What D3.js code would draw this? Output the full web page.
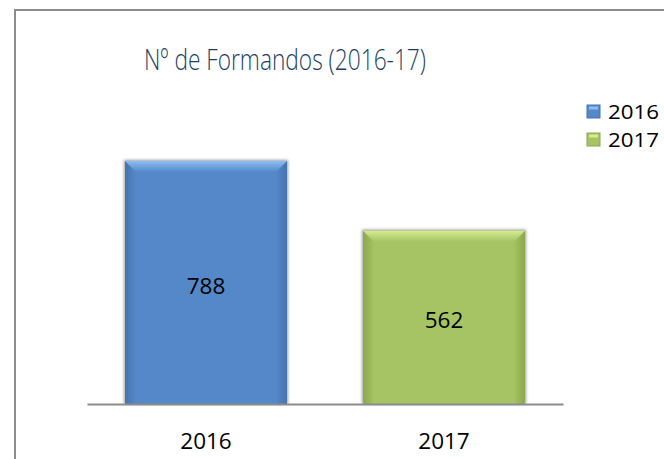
<!DOCTYPE html>
<html>
<head>
<meta charset="utf-8">
<script src="https://cdn.jsdelivr.net/npm/d3@7"></script>
<style>
  body { margin: 0; background: #fff; }
  svg { display: block; font-family: "Open Sans", sans-serif; }
</style>
</head>
<body>
<svg width="664" height="459"></svg>
<script>
const title = 'Nº de Formandos (2016-17)';
const categories = ['2016', '2017'];
const values = [788, 562];
const fills = ['#5588c8', '#a6c464'];
const lights = ['#8cbcf2', '#d4ec92'];
const darks = ['#4673ad', '#8aa84c'];

const svg = d3.select('svg');
const defs = svg.append('defs');

// soft shadow around the bars
const shadow = defs.append('filter').attr('id', 'shadow')
    .attr('x', '-10%').attr('y', '-10%').attr('width', '120%').attr('height', '120%');
shadow.append('feGaussianBlur').attr('stdDeviation', 1.6);

categories.forEach((c, i) => {
    const gTop = defs.append('linearGradient').attr('id', 'top' + i)
        .attr('x1', 0).attr('y1', 0).attr('x2', 0).attr('y2', 1);
    gTop.append('stop').attr('offset', '0%').attr('stop-color', lights[i]);
    gTop.append('stop').attr('offset', '100%').attr('stop-color', fills[i]);
    const gL = defs.append('linearGradient').attr('id', 'left' + i)
        .attr('x1', 0).attr('y1', 0).attr('x2', 1).attr('y2', 0);
    gL.append('stop').attr('offset', '0%').attr('stop-color', darks[i]);
    gL.append('stop').attr('offset', '100%').attr('stop-color', fills[i]);
    const gR = defs.append('linearGradient').attr('id', 'right' + i)
        .attr('x1', 1).attr('y1', 0).attr('x2', 0).attr('y2', 0);
    gR.append('stop').attr('offset', '0%').attr('stop-color', darks[i]);
    gR.append('stop').attr('offset', '100%').attr('stop-color', fills[i]);
});

// chart border (right and bottom edges fall outside the picture)
svg.append('rect')
    .attr('x', 15).attr('y', 10).attr('width', 720).attr('height', 520)
    .attr('fill', 'none').attr('stroke', '#8c8c8c').attr('stroke-width', 2);

const x = d3.scaleBand().domain(categories).range([87, 563])
    .paddingInner(0.32).paddingOuter(0.16);
const y = d3.scaleLinear().domain([0, 900]).range([404, 126.5]);

svg.append('text')
    .attr('x', 285).attr('y', 70)
    .attr('text-anchor', 'middle')
    .attr('font-size', 30)
    .attr('font-weight', 300)
    .attr('textLength', 282).attr('lengthAdjust', 'spacingAndGlyphs')
    .attr('fill', '#213f66')
    .text(title);

const bev = 11;
const bars = svg.selectAll('g.bar')
    .data(values)
    .enter()
    .append('g')
    .attr('class', 'bar');

bars.append('rect')
    .attr('x', (d, i) => x(categories[i]) - 1)
    .attr('y', d => y(d) - 1)
    .attr('width', x.bandwidth() + 2)
    .attr('height', d => y(0) - y(d) + 1)
    .attr('fill', '#9a9a9a')
    .attr('filter', 'url(#shadow)');

bars.append('rect')
    .attr('x', (d, i) => x(categories[i]))
    .attr('y', d => y(d))
    .attr('width', x.bandwidth())
    .attr('height', d => y(0) - y(d))
    .attr('fill', (d, i) => fills[i]);

bars.append('polygon')
    .attr('points', (d, i) => {
        const x0 = x(categories[i]), y0 = y(d), yb = y(0);
        return [[x0, y0], [x0 + bev, y0 + bev], [x0 + bev, yb], [x0, yb]].join(' ');
    })
    .attr('fill', (d, i) => `url(#left${i})`);

bars.append('polygon')
    .attr('points', (d, i) => {
        const x1 = x(categories[i]) + x.bandwidth(), y0 = y(d), yb = y(0);
        return [[x1, y0], [x1 - bev, y0 + bev], [x1 - bev, yb], [x1, yb]].join(' ');
    })
    .attr('fill', (d, i) => `url(#right${i})`);

bars.append('polygon')
    .attr('points', (d, i) => {
        const x0 = x(categories[i]), x1 = x0 + x.bandwidth(), y0 = y(d);
        return [[x0, y0], [x1, y0], [x1 - bev, y0 + bev], [x0 + bev, y0 + bev]].join(' ');
    })
    .attr('fill', (d, i) => `url(#top${i})`);

// value labels in the middle of each bar
bars.append('text')
    .attr('x', (d, i) => x(categories[i]) + x.bandwidth() / 2)
    .attr('y', d => (y(d) + y(0)) / 2 + 11)
    .attr('text-anchor', 'middle')
    .attr('font-size', 22.5)
    .attr('fill', '#000')
    .text(d => d);

// category axis
const axis = svg.append('g')
    .attr('transform', `translate(0,${y(0)})`)
    .call(d3.axisBottom(x).tickSize(0).tickPadding(0));
axis.select('.domain').attr('stroke', '#8c8c8c').attr('stroke-width', 2);
axis.selectAll('.tick text')
    .attr('y', 45).attr('dy', 0)
    .attr('font-size', 22.5)
    .attr('font-family', '"Open Sans", sans-serif')
    .attr('fill', '#000');

// legend
const legend = svg.selectAll('g.legend')
    .data(categories)
    .enter()
    .append('g')
    .attr('class', 'legend')
    .attr('transform', (d, i) => `translate(587,${105 + i * 28})`);

legend.append('rect')
    .attr('width', 13).attr('height', 13)
    .attr('fill', (d, i) => fills[i])
    .attr('stroke', (d, i) => darks[i]).attr('stroke-width', 1);

legend.append('rect')
    .attr('x', 2).attr('y', 1.5).attr('width', 9).attr('height', 3)
    .attr('fill', (d, i) => lights[i]);

legend.append('text')
    .attr('x', 21).attr('y', 14)
    .attr('font-size', 20.5)
    .attr('textLength', 51).attr('lengthAdjust', 'spacingAndGlyphs')
    .attr('fill', '#000')
    .text(d => d);
</script>
</body>
</html>
